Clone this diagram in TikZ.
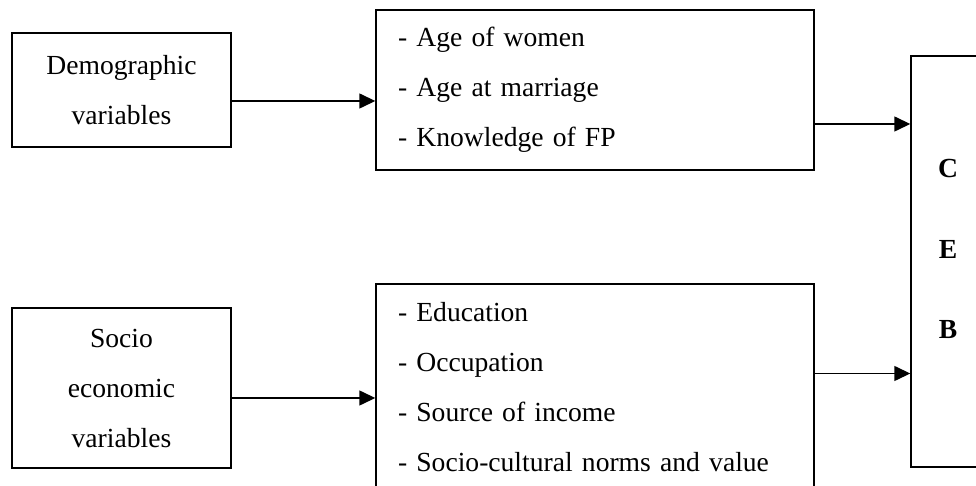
\documentclass[tikz,border=0pt]{standalone}
\usepackage{fontspec}
\setmainfont{Liberation Serif}
\usetikzlibrary{calc, arrows.meta, positioning}
\tikzset{
    boxnode/.style = {draw, rectangle, line width=0.7pt, inner sep=0pt, align=center, 
      minimum width=109.5pt, font=\fontsize{13.8}{25}\selectfont},
    listnode/.style = {draw, rectangle, line width=0.7pt, inner xsep=11pt, inner ysep=0pt, 
      align=left, text width=197pt, font=\fontsize{13.8}{25}\selectfont},
    resultnode/.style = {draw, rectangle, line width=0.7pt, inner sep=0pt, align=center, 
      minimum width=37pt, minimum height=205.5pt, text depth=12.4pt, font=\fontsize{13.8}{40.25}\selectfont\bfseries},
    connect/.style = {black, line width=0.7pt, -{Triangle[length=8pt, width=7.5pt]}}
}

\begin{document}
\begin{tikzpicture}[node distance=0pt]
    \node[boxnode, name=Demo, minimum height=57pt] {Demographic\\variables};
    \node[listnode, name=TopList, right of=Demo, xshift=236.75pt, minimum height=80pt] 
      {- Age of women\\- Age at marriage\\- Knowledge of FP};

    \node[boxnode, name=Socio, below of=Demo, yshift=-149pt, minimum height=80pt] {Socio\\economic\\variables};
    \node[listnode, name=BotList, right of=Socio, xshift=236.75pt, yshift=0.25pt, minimum height=103.5pt] 
      {- Education\\- Occupation\\- Source of income\\- Socio-cultural norms and value};

    \node[resultnode, name=CEB, right of=TopList, xshift=176.5pt, yshift=-85.75pt] {C\\E\\B};

    \draw[connect] ([yshift=-5.5pt]Demo.east) -- ([yshift=-5.5pt]Demo.east -| TopList.west);
    \draw[connect] ([yshift=-5pt]Socio.east) -- ([yshift=-5pt]Socio.east -| BotList.west);
    \draw[connect] ([yshift=-17pt]TopList.east) -- ([yshift=-17pt]TopList.east -| CEB.west);
    \draw[connect] ([yshift=7pt]BotList.east) -- ([yshift=7pt]BotList.east -| CEB.west);

    \pgfresetboundingbox
    \useasboundingbox ($(Demo.center)+(-60.75pt,45pt)$) rectangle ++(488pt,-243pt);
\end{tikzpicture}
\end{document}
